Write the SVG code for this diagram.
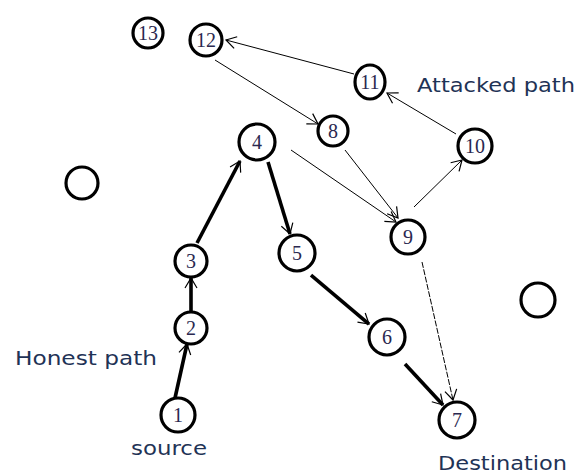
<svg xmlns="http://www.w3.org/2000/svg" width="587" height="475" viewBox="0 0 587 475">
<style>
.n{fill:#fff;stroke:#000;stroke-width:3.2}
.t{font-family:"Liberation Serif",serif;font-size:20px;fill:#2a2850;text-anchor:middle;dominant-baseline:central}
.lbl{font-family:"DejaVu Sans","Liberation Sans",sans-serif;font-size:20px;fill:#1f3356}
.thick{stroke:#000;stroke-width:3.6;fill:none;marker-end:url(#ah)}
.thin{stroke:#000;stroke-width:1;fill:none;marker-end:url(#ah)}
</style>
<defs>
<marker id="ah" markerUnits="userSpaceOnUse" viewBox="-12 -8 14 16" markerWidth="14" markerHeight="16" refX="0" refY="0" orient="auto">
<polyline points="-10,-6 0,0 -10,6" fill="none" stroke="#000" stroke-width="1.2"/>
</marker>
</defs>
<rect width="587" height="475" fill="#fff"/>
<g id="connectors">
<line class="thick" x1="175" y1="398" x2="187" y2="344"/>
<line class="thick" x1="191" y1="311" x2="191" y2="278"/>
<line class="thick" x1="197" y1="243" x2="240" y2="161"/>
<line class="thick" x1="268" y1="162" x2="290" y2="234"/>
<line class="thick" x1="311" y1="275" x2="369" y2="324"/>
<line class="thick" x1="405" y1="364" x2="443" y2="405"/>
<line class="thin" x1="291" y1="150" x2="396" y2="222"/>
<line class="thin" x1="345" y1="150" x2="398" y2="218"/>
<line class="thin" x1="414" y1="207" x2="462" y2="160"/>
<line class="thin" x1="456" y1="134" x2="387" y2="93"/>
<line class="thin" x1="354" y1="74" x2="226" y2="40"/>
<line class="thin" x1="215" y1="60" x2="318" y2="124"/>
<line class="thin" x1="422" y1="262" x2="453" y2="400" stroke-dasharray="6 1.5"/>
</g>
<g id="n13"><circle class="n" cx="148" cy="33" r="15"/><text class="t" x="148" y="33">13</text></g>
<g id="n12"><circle class="n" cx="206" cy="40" r="16"/><text class="t" x="206" y="40">12</text></g>
<g id="n11"><ellipse class="n" cx="370" cy="82" rx="15" ry="17"/><text class="t" x="370" y="82">11</text></g>
<g id="n10"><circle class="n" cx="475" cy="146" r="17"/><text class="t" x="475" y="146">10</text></g>
<g id="n8"><circle class="n" cx="333" cy="131" r="15"/><text class="t" x="333" y="131">8</text></g>
<g id="n4"><circle class="n" cx="257" cy="142" r="18"/><text class="t" x="257" y="142">4</text></g>
<g id="nA"><circle class="n" cx="82" cy="183" r="16"/></g>
<g id="n9"><circle class="n" cx="408" cy="237" r="17"/><text class="t" x="408" y="237">9</text></g>
<g id="n3"><circle class="n" cx="191" cy="261" r="16"/><text class="t" x="191" y="261">3</text></g>
<g id="n5"><circle class="n" cx="297" cy="253" r="18"/><text class="t" x="297" y="253">5</text></g>
<g id="nB"><circle class="n" cx="538" cy="300" r="17"/></g>
<g id="n2"><circle class="n" cx="191" cy="328" r="16"/><text class="t" x="191" y="328">2</text></g>
<g id="n6"><circle class="n" cx="387" cy="337" r="18"/><text class="t" x="387" y="337">6</text></g>
<g id="n1"><circle class="n" cx="178" cy="415" r="17"/><text class="t" x="178" y="415">1</text></g>
<g id="n7"><circle class="n" cx="457" cy="420" r="18"/><text class="t" x="457" y="420">7</text></g>
<text class="lbl" x="417" y="92" textLength="158" lengthAdjust="spacingAndGlyphs">Attacked path</text>
<text class="lbl" x="15" y="365" textLength="142" lengthAdjust="spacingAndGlyphs">Honest path</text>
<text class="lbl" x="131" y="455" textLength="76" lengthAdjust="spacingAndGlyphs">source</text>
<text class="lbl" x="438" y="470" textLength="129" lengthAdjust="spacingAndGlyphs">Destination</text>
</svg>
